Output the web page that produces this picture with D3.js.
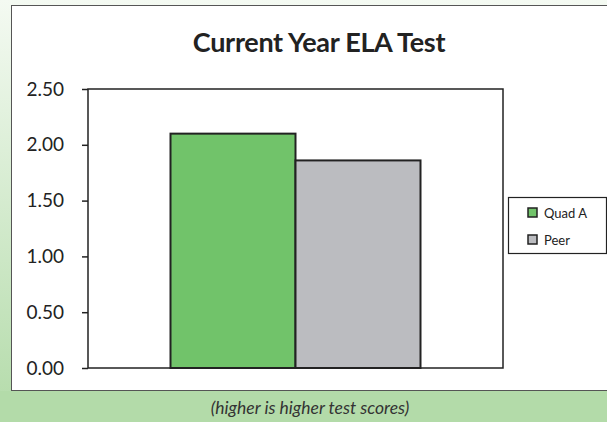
<!DOCTYPE html>
<html>
<head>
<meta charset="utf-8">
<script src="https://cdn.jsdelivr.net/npm/d3@7"></script>
<style>
  body { margin: 0; background: #fff; }
  svg { display: block; font-family: Lato, "Open Sans", sans-serif; }
</style>
</head>
<body>
<div id="chart"></div>
<script>
// Chart data
var categories = ["Current Year"];
var seriesNames = ["Quad A", "Peer"];
var seriesValues = [2.10, 1.86];
var seriesColors = ["#71c36a", "#bbbcc0"];
var yTicks = [0, 0.5, 1.0, 1.5, 2.0, 2.5];

var svgWidth = 607;
var svgHeight = 422;

// Plot box
var margin = { top: 89, right: 104, bottom: 54, left: 88 };
var chartWidth = svgWidth - margin.left - margin.right;
var chartHeight = svgHeight - margin.top - margin.bottom;

var svg = d3.select("#chart")
  .append("svg")
  .attr("width", svgWidth)
  .attr("height", svgHeight);

// Background gradients
var defs = svg.append("defs");
var grad = defs.append("linearGradient")
  .attr("id", "sideGrad")
  .attr("x1", 0).attr("y1", 0).attr("x2", 0).attr("y2", 1);
grad.append("stop").attr("offset", "0%").attr("stop-color", "#f4faf2");
grad.append("stop").attr("offset", "100%").attr("stop-color", "#b3dba9");

svg.append("rect")
  .attr("width", svgWidth).attr("height", svgHeight)
  .attr("fill", "url(#sideGrad)");
svg.append("rect")
  .attr("x", 0).attr("y", 391)
  .attr("width", svgWidth).attr("height", svgHeight - 391)
  .attr("fill", "#b3dba9");

// White panel
svg.append("rect")
  .attr("x", 11.5).attr("y", 5.5)
  .attr("width", svgWidth).attr("height", 385)
  .attr("fill", "#fff")
  .attr("stroke", "#555")
  .attr("stroke-width", 1);

svg.append("text")
  .attr("x", 319)
  .attr("y", 52)
  .attr("text-anchor", "middle")
  .attr("font-size", 27)
  .attr("font-weight", "bold")
  .attr("fill", "#222")
  .style("letter-spacing", "-0.3px")
  .text("Current Year ELA Test");

var chartGroup = svg.append("g")
  .attr("transform", `translate(${margin.left}, ${margin.top})`);

var yScale = d3.scaleLinear()
  .domain([0, 2.5])
  .range([chartHeight, 0]);

var x0 = d3.scaleBand()
  .domain(categories)
  .range([0, chartWidth])
  .paddingInner(0)
  .paddingOuter(0.33);

var x1 = d3.scaleBand()
  .domain(seriesNames)
  .range([0, x0.bandwidth()]);

// Plot frame
chartGroup.append("rect")
  .attr("width", chartWidth)
  .attr("height", chartHeight)
  .attr("fill", "#fff")
  .attr("stroke", "#222")
  .attr("stroke-width", 1.5);

// Bars
chartGroup.selectAll(".bar")
  .data(seriesNames)
  .enter()
  .append("rect")
  .attr("class", "bar")
  .attr("x", (d, i) => x0(categories[0]) + x1(d))
  .attr("y", (d, i) => yScale(seriesValues[i]))
  .attr("width", x1.bandwidth())
  .attr("height", (d, i) => chartHeight - yScale(seriesValues[i]))
  .attr("fill", (d, i) => seriesColors[i])
  .attr("stroke", "#222")
  .attr("stroke-width", 2);

// Y axis
var leftAxis = d3.axisLeft(yScale)
  .tickValues(yTicks)
  .tickFormat(d3.format(".2f"))
  .tickSize(6)
  .tickPadding(18);

var yAxis = chartGroup.append("g").call(leftAxis);
yAxis.select(".domain").remove();
yAxis.selectAll(".tick line").attr("stroke", "#222").attr("stroke-width", 1.5);
yAxis.selectAll(".tick text")
  .attr("font-size", 19)
  .attr("font-family", "Lato, 'Open Sans', sans-serif")
  .attr("fill", "#222");

// Legend
var legend = svg.append("g").attr("transform", "translate(508, 197)");
legend.append("rect")
  .attr("x", 0.5).attr("y", 0.5)
  .attr("width", 98).attr("height", 56)
  .attr("fill", "#fff")
  .attr("stroke", "#222")
  .attr("stroke-width", 1.2);

var items = legend.selectAll(".item")
  .data(seriesNames)
  .enter()
  .append("g")
  .attr("class", "item")
  .attr("transform", (d, i) => `translate(20, ${11 + i * 27})`);

items.append("rect")
  .attr("width", 9).attr("height", 9)
  .attr("fill", (d, i) => seriesColors[i])
  .attr("stroke", "#222")
  .attr("stroke-width", 1.5);

items.append("text")
  .attr("x", 16)
  .attr("y", 10)
  .attr("font-size", 13)
  .attr("fill", "#222")
  .text(d => d);

// Caption
svg.append("text")
  .attr("x", 310)
  .attr("y", 414)
  .attr("text-anchor", "middle")
  .attr("font-size", 17.5)
  .attr("font-style", "italic")
  .attr("fill", "#333")
  .text("(higher is higher test scores)");
</script>
</body>
</html>
